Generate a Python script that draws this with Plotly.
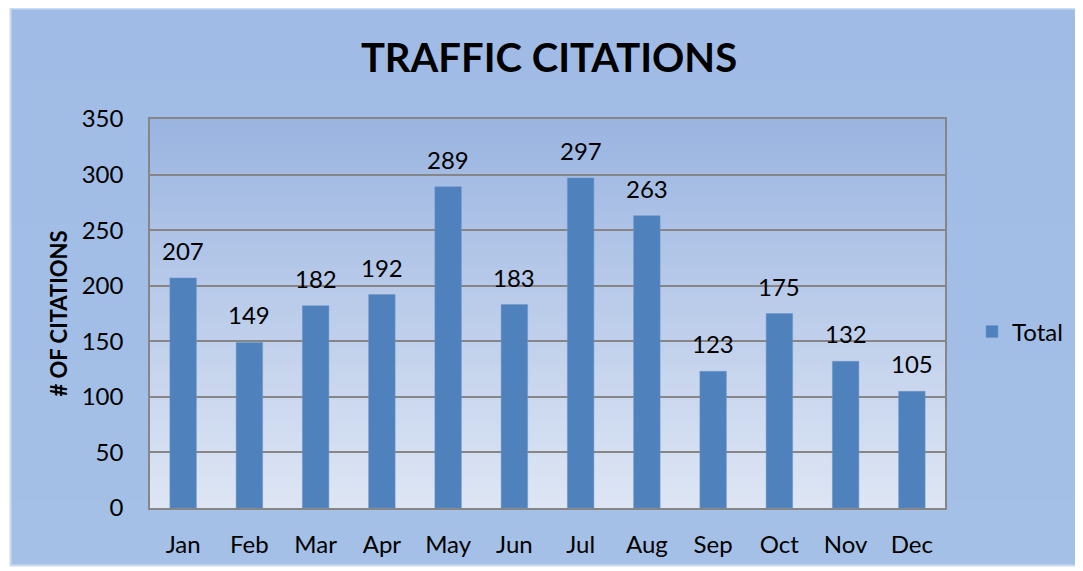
import base64
import struct
import zlib

import plotly.graph_objects as go

# ---- data ----
months = ["Jan", "Feb", "Mar", "Apr", "May", "Jun", "Jul", "Aug", "Sep", "Oct", "Nov", "Dec"]
citations = [207, 149, 182, 192, 289, 183, 297, 263, 123, 175, 132, 105]
series_name = "Total"
y_ticks = [0, 50, 100, 150, 200, 250, 300, 350]

# ---- styling helpers ----
OFF = 8  # page body margin
PAGE_W, PAGE_H = 1083, 571
W, H = PAGE_W - OFF, PAGE_H - OFF
# plot area in page pixels: x 150..945, y 119..508
ML, MT = 150 - OFF, 119 - OFF
MR, MB = PAGE_W - 945, PAGE_H - 508
PW, PH = W - ML - MR, H - MT - MB


def gradient_png(top, bottom, h=64):
    rows = b""
    for i in range(h):
        t = i / (h - 1)
        c = [round(top[k] + (bottom[k] - top[k]) * t) for k in range(3)]
        rows += b"\x00" + bytes(c)

    def chunk(tag, data):
        c = struct.pack(">I", len(data)) + tag + data
        return c + struct.pack(">I", zlib.crc32(tag + data) & 0xFFFFFFFF)

    png = b"\x89PNG\r\n\x1a\n"
    png += chunk(b"IHDR", struct.pack(">IIBBBBB", 1, h, 8, 2, 0, 0, 0))
    png += chunk(b"IDAT", zlib.compress(rows))
    png += chunk(b"IEND", b"")
    return "data:image/png;base64," + base64.b64encode(png).decode()


def px_x(p):  # page px -> paper
    return (p - OFF - ML) / PW


def px_y(p):
    return (H - MB - (p - OFF)) / PH


FONT = "Lato"
FS = 24

fig = go.Figure()
fig.add_trace(
    go.Bar(
        x=months,
        y=citations,
        name=series_name,
        marker=dict(color="#4f81bd", line=dict(color="#6f97c9", width=0.5)),
        width=0.4,
        showlegend=True,
    )
)

annotations = [
    dict(
        x=m, y=v, xref="x", yref="y", text=str(v), showarrow=False,
        yanchor="bottom", yshift=11, font=dict(family=FONT, size=FS, color="black"),
    )
    for m, v in zip(months, citations)
]

fig.update_layout(
    width=W,
    height=H,
    margin=dict(l=ML, r=MR, t=MT, b=MB, autoexpand=False),
    paper_bgcolor="white",
    plot_bgcolor="rgba(0,0,0,0)",
    font=dict(family=FONT, size=FS, color="black"),
    title=dict(
        text="<b>TRAFFIC CITATIONS</b>",
        x=(549 - OFF) / W, xanchor="center",
        y=1 - (58 - OFF) / H, yanchor="middle",
        font=dict(family=FONT, size=40, color="black"),
    ),
    bargap=0.6,
    legend=dict(
        x=px_x(972), xanchor="left",
        y=px_y(332), yanchor="middle",
        bgcolor="rgba(0,0,0,0)",
        font=dict(family=FONT, size=FS),
        itemwidth=30,
    ),
    xaxis=dict(
        showgrid=False,
        showline=True, linecolor="#868686", linewidth=1.5, mirror=True,
        ticks="", ticklabelstandoff=14,
        tickfont=dict(family=FONT, size=FS),
    ),
    yaxis=dict(
        range=[0, 350],
        tickvals=y_ticks,
        showgrid=True, gridcolor="#868686", gridwidth=1.5,
        showline=True, linecolor="#868686", linewidth=1.5, mirror=True,
        zeroline=False,
        ticks="", ticklabelstandoff=20,
        tickfont=dict(family=FONT, size=FS),
        title=dict(text="<b># OF CITATIONS</b>", font=dict(family=FONT, size=22), standoff=8),
    ),
    annotations=annotations,
    images=[
        dict(
            source=gradient_png((160, 188, 230), (164, 192, 230)),
            xref="paper", yref="paper",
            x=px_x(10), y=px_y(8),
            sizex=px_x(1083) - px_x(10), sizey=px_y(8) - px_y(566),
            sizing="stretch", layer="below", xanchor="left", yanchor="top",
        ),
        dict(
            source=gradient_png((155, 181, 225), (222, 230, 244)),
            xref="paper", yref="paper",
            x=0, y=1, sizex=1, sizey=1,
            sizing="stretch", layer="below", xanchor="left", yanchor="top",
        ),
    ],
    shapes=[
        dict(
            type="rect", xref="paper", yref="paper", layer="below",
            x0=px_x(10.5), x1=px_x(1082.5), y0=px_y(565.5), y1=px_y(8.5),
            line=dict(color="#c9dbf3", width=2), fillcolor="rgba(0,0,0,0)",
        )
    ],
)

fig.write_html("out.html")
